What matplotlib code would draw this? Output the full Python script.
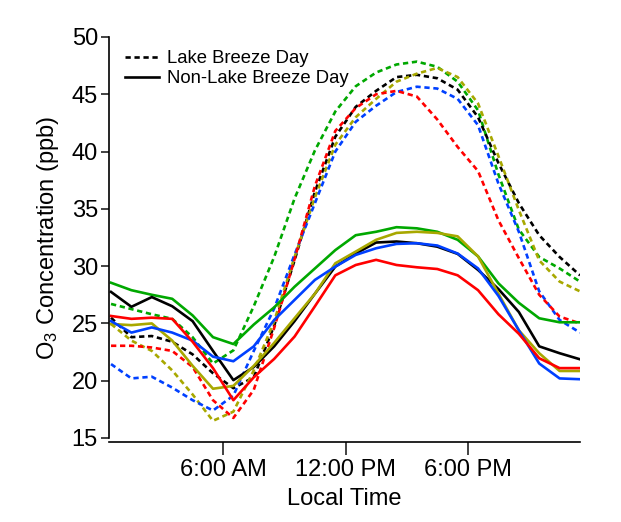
import numpy as np
import matplotlib
matplotlib.use("Agg")
import matplotlib.pyplot as plt
from matplotlib.lines import Line2D

plt.rcParams['font.family'] = ['Liberation Sans', 'DejaVu Sans']
plt.rcParams['mathtext.default'] = 'regular'

hours = np.arange(24) + 0.5

# Non-lake breeze days (solid)
green_nlb = [28.55, 27.9, 27.5, 27.15, 25.7, 23.8, 23.2, 24.9, 26.4, 28.2, 29.8, 31.4,
             32.7, 33.0, 33.4, 33.3, 33.0, 32.3, 30.85, 28.5, 26.8, 25.45, 25.1, 25.1]
black_nlb = [27.75, 26.45, 27.3, 26.5, 25.2, 22.6, 20.05, 21.2, 23.0, 25.2, 27.6, 29.96,
             31.1, 32.06, 32.15, 32.0, 31.7, 31.07, 29.67, 28.0, 26.0, 23.0, 22.4, 21.87]
red_nlb = [25.65, 25.4, 25.5, 25.4, 23.4, 21.1, 18.3, 20.3, 21.9, 23.85, 26.5, 29.2,
           30.1, 30.55, 30.1, 29.9, 29.75, 29.2, 27.9, 25.8, 24.1, 21.96, 21.1, 21.1]
blue_nlb = [25.2, 24.2, 24.65, 24.2, 23.5, 22.1, 21.7, 23.0, 25.3, 27.05, 28.8, 29.96,
            30.98, 31.56, 31.94, 32.0, 31.8, 31.1, 29.8, 27.4, 24.4, 21.5, 20.2, 20.13]
olive_nlb = [24.95, 24.85, 25.0, 23.5, 21.3, 19.3, 19.55, 21.3, 23.3, 25.45, 27.6, 30.25,
             31.27, 32.3, 32.9, 33.0, 32.9, 32.6, 30.85, 27.6, 24.4, 22.4, 20.85, 20.85]

# Lake breeze days (dashed)
green_lb = [26.7, 26.25, 25.8, 25.4, 23.8, 21.5, 22.65, 26.5, 30.8, 35.9, 40.1, 43.5,
            45.7, 46.9, 47.6, 47.85, 47.4, 46.1, 43.6, 38.0, 33.2, 30.8, 29.8, 28.65]
black_lb = [25.5, 23.8, 23.9, 23.4, 22.3, 20.65, 19.35, 20.3, 24.8, 30.5, 36.5, 41.3,
            43.9, 45.3, 46.5, 46.7, 46.4, 45.4, 43.0, 39.0, 35.5, 32.7, 30.8, 29.2]
red_lb = [23.05, 23.05, 22.9, 22.6, 21.2, 18.3, 16.75, 19.2, 24.6, 30.6, 37.0, 41.8,
          43.8, 45.0, 45.3, 44.8, 42.8, 40.4, 38.3, 34.0, 30.7, 27.5, 25.6, 25.0]
blue_lb = [21.45, 20.2, 20.35, 19.4, 18.3, 17.4, 18.7, 22.6, 26.3, 31.0, 35.5, 40.0,
           42.6, 44.0, 45.2, 45.66, 45.5, 44.6, 42.3, 37.2, 33.0, 27.8, 25.3, 24.2]
olive_lb = [24.95, 23.5, 22.6, 20.9, 18.8, 16.5, 17.3, 20.9, 25.2, 30.8, 36.0, 40.6,
            43.0, 44.6, 46.1, 46.8, 47.3, 46.5, 44.2, 39.6, 34.9, 30.5, 28.65, 27.8]

xticks = [6, 12, 18]
xticklabels = ['6:00 AM', '12:00 PM', '6:00 PM']
yticks = [15, 20, 25, 30, 35, 40, 45, 50]
legend_labels = ['Lake Breeze Day', 'Non-Lake Breeze Day']

C_GREEN = '#00a800'
C_BLACK = '#000000'
C_RED = '#ff0000'
C_BLUE = '#0040ff'
C_OLIVE = '#a8a800'

fig = plt.figure(figsize=(6.21, 5.22), dpi=100)
ax = fig.add_axes([109/621, 84/522, 471/621, 401/522])

lw = 1.9
dash = (0, (2.0, 1.4))
series_lb = [(green_lb, C_GREEN), (black_lb, C_BLACK), (olive_lb, C_OLIVE),
             (blue_lb, C_BLUE), (red_lb, C_RED)]
series_nlb = [(green_nlb, C_GREEN), (black_nlb, C_BLACK), (olive_nlb, C_OLIVE),
              (blue_nlb, C_BLUE), (red_nlb, C_RED)]
for vals, c in series_lb:
    ax.plot(hours, vals, color=c, lw=lw, linestyle=dash)
for vals, c in series_nlb:
    ax.plot(hours, vals, color=c, lw=lw, linestyle='-')

ax.set_xlim(0.4, 23.5)
ax.set_ylim(15, 50)
ax.set_xticks(xticks)
ax.set_xticklabels(xticklabels)
ax.set_yticks(yticks)
ax.tick_params(axis='both', labelsize=17, direction='out', width=1.2, colors='#222222',
               labelcolor='black')
ax.tick_params(axis='x', length=9, pad=3)
ax.tick_params(axis='y', length=6, pad=2)
for s in ['top', 'right']:
    ax.spines[s].set_visible(False)
ax.spines['left'].set_linewidth(1.2)
ax.spines['bottom'].set_linewidth(1.2)
ax.spines['bottom'].set_position(('outward', 3))

ax.set_xlabel('Local Time', fontsize=17, labelpad=5)
ax.set_ylabel('O$_3$ Concentration (ppb)', fontsize=17, labelpad=8)

handles = [Line2D([], [], color='black', lw=lw, linestyle=dash),
           Line2D([], [], color='black', lw=lw, linestyle='-')]
ax.legend(handles, legend_labels, loc='upper left',
          bbox_to_anchor=(0.01, 0.995), frameon=False, fontsize=13.3, handlelength=1.85,
          handletextpad=0.45, labelspacing=0.18, borderaxespad=0.2)

fig.savefig('out.png', dpi=100)
